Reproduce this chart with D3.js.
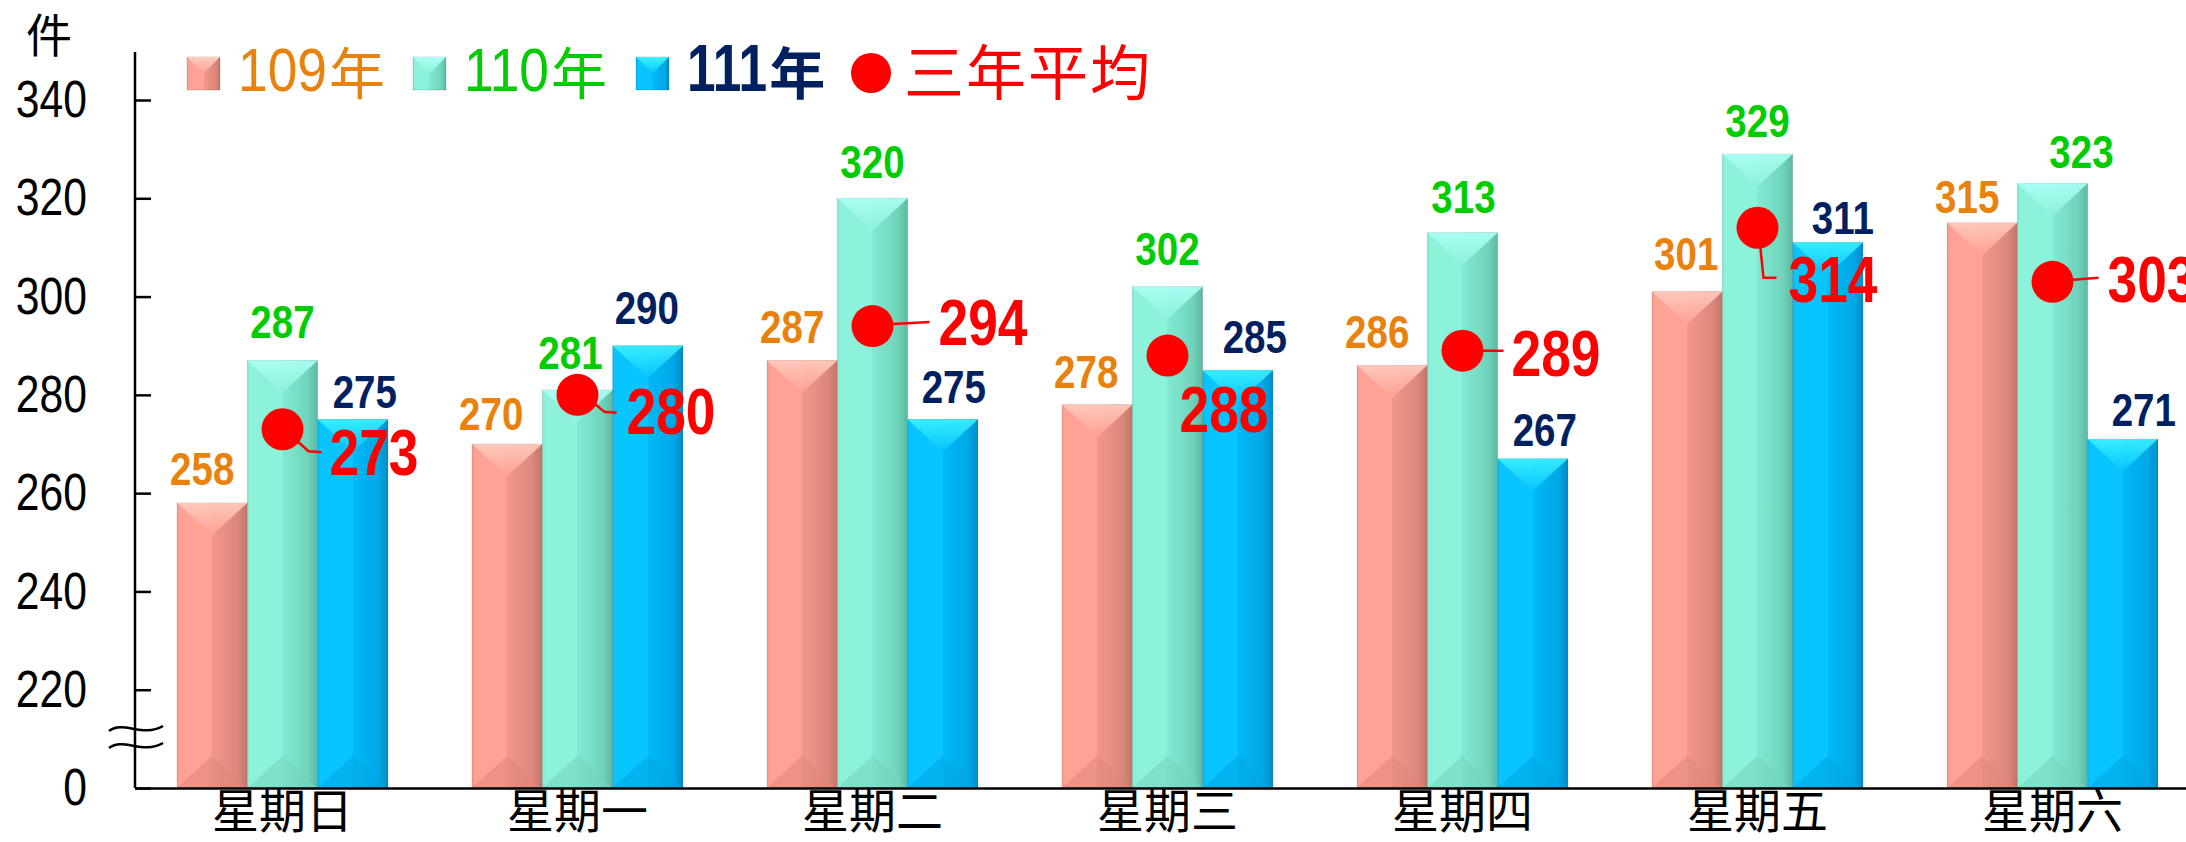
<!DOCTYPE html>
<html>
<head>
<meta charset="utf-8">
<script src="https://cdn.jsdelivr.net/npm/d3@7"></script>
<style>
  body { margin: 0; background: #fff; }
  svg { display: block; }
</style>
</head>
<body>
<div id="chart"></div>
<script>
// data
const days = ["星期日", "星期一", "星期二", "星期三", "星期四", "星期五", "星期六"];
const seriesNames = ["109年", "110年", "111年"];
const y109 = [258, 270, 287, 278, 286, 301, 315];
const y110 = [287, 281, 320, 302, 313, 329, 323];
const y111 = [275, 290, 275, 285, 267, 311, 271];
const avg3 = [273, 280, 294, 288, 289, 314, 303];
const avgName = "三年平均";
const unitLabel = "件";
const yTicks = [200, 220, 240, 260, 280, 300, 320, 340];
const yTickText = ["0", "220", "240", "260", "280", "300", "320", "340"];

// label placement in the original is done by hand: [dx from bar centre, gap above bar top]
const nudge109 = [[-10, 18], [-16, 14], [-10, 17], [-11, 17], [-15, 17], [-1, 22], [-15, 10]];
const nudge110 = [[0, 22], [-7, 21], [0, 20], [0, 22], [1, 20], [0, 17], [29, 16]];
const nudge111 = [[12, 11], [-1, 22], [11, 16], [17, 17], [12, 13], [15, 9], [21, 13]];
// average labels: text start / baseline relative to dot, and leader line points
const avgLabelPos = [[47, 46], [49, 39], [66, 19], [12, 76], [49, 25], [31, 74], [55, 20]];
const avgLeaders = [
  [[15, 12], [26, 22], [39, 23]],
  [[16, 8], [27, 17], [39, 18]],
  [[21, -2], [57, -4]],
  [],
  [[21, 0], [41, 0]],
  [[3, 21], [6, 50], [19, 50]],
  [[21, -2], [46, -4]]
];

const W = 2186, H = 842;
const NUM = '"Liberation Sans Narrow","Arial Narrow","Liberation Sans",Arial,sans-serif';
const CJK = '"Noto Sans CJK TC","Noto Sans CJK SC",sans-serif';
const SX = 0.82;   // the original uses a narrow face, squeeze the digits

const series = [
  {name: seriesNames[0], values: y109, nudge: nudge109, text: "#E8820C",
   light: "#FFA194", mid: "#F3978A", dark: "#DC887C", edge: "#C47468", top: "#FFCCC0", bot: "#E0867A"},
  {name: seriesNames[1], values: y110, nudge: nudge110, text: "#00CC00",
   light: "#8CF2DA", mid: "#82EAD2", dark: "#70D4BC", edge: "#5CB8A2", top: "#ADFFF6", bot: "#72D6BE"},
  {name: seriesNames[2], values: y111, nudge: nudge111, text: "#002060",
   light: "#08C4FF", mid: "#00B9F6", dark: "#00A8E6", edge: "#008CC6", top: "#3CF2FF", bot: "#00A6E2"}
];

// move x/y into a transform so the glyphs can be squeezed horizontally
function squeeze(sel, sx) {
    sel.each(function () {
        let t = d3.select(this);
        let tx = +t.attr("x") || 0, ty = +t.attr("y") || 0;
        t.attr("x", 0).attr("y", 0)
            .attr("transform", `translate(${tx},${ty}) scale(${sx},1)`);
    });
}

const svg = d3.select("#chart").append("svg")
    .attr("width", W)
    .attr("height", H);

const x = d3.scaleBand()
    .domain(days)
    .range([135, 2200])
    .paddingInner(0.285)
    .paddingOuter(0.1425);

const xs = d3.scaleBand()
    .domain(seriesNames)
    .range([0, x.bandwidth()]);

const y = d3.scaleLinear()
    .domain([200, 340])
    .range([788, 100]);

// gradients for the bevelled bars
const defs = svg.append("defs");
series.forEach(function (s, i) {
    let g = defs.append("linearGradient").attr("id", "body" + i)
        .attr("x1", 0).attr("x2", 1).attr("y1", 0).attr("y2", 0);
    g.append("stop").attr("offset", 0).attr("stop-color", s.mid);
    g.append("stop").attr("offset", 0.04).attr("stop-color", s.light);
    g.append("stop").attr("offset", 0.5).attr("stop-color", s.light);
    g.append("stop").attr("offset", 0.5).attr("stop-color", s.mid);
    g.append("stop").attr("offset", 0.86).attr("stop-color", s.dark);
    g.append("stop").attr("offset", 1).attr("stop-color", s.edge);

    let t = defs.append("linearGradient").attr("id", "top" + i)
        .attr("x1", 0).attr("x2", 0).attr("y1", 0).attr("y2", 1);
    t.append("stop").attr("offset", 0).attr("stop-color", s.top);
    t.append("stop").attr("offset", 1).attr("stop-color", s.light);
});

// bars
const baseY = y(200);
series.forEach(function (s, i) {
    let bw = xs.bandwidth();
    let rows = s.values.map(function (v, j) {
        return {v: v, j: j, x0: x(days[j]) + xs(s.name)};
    });
    let g = svg.append("g");

    g.selectAll("rect").data(rows).enter()
        .append("rect")
        .attr("x", d => d.x0)
        .attr("y", d => y(d.v))
        .attr("width", bw)
        .attr("height", d => baseY - y(d.v))
        .attr("fill", "url(#body" + i + ")")
        .attr("stroke", "rgba(0,0,0,0.12)")
        .attr("stroke-width", 1);

    // top bevel (V shape)
    g.selectAll("path.top").data(rows).enter()
        .append("path")
        .attr("class", "top")
        .attr("d", function (d) {
            let t = y(d.v);
            return `M${d.x0},${t}L${d.x0 + bw},${t}L${d.x0 + bw / 2},${t + bw * 0.46}Z`;
        })
        .attr("fill", "url(#top" + i + ")")
        .attr("opacity", 0.9);

    // bottom bevel
    g.selectAll("path.bot").data(rows).enter()
        .append("path")
        .attr("class", "bot")
        .attr("d", function (d) {
            return `M${d.x0},${baseY}L${d.x0 + bw},${baseY}L${d.x0 + bw / 2},${baseY - bw * 0.46}Z`;
        })
        .attr("fill", s.bot)
        .attr("opacity", 0.55);

    // value labels
    g.selectAll("text").data(rows).enter()
        .append("text")
        .attr("x", d => d.x0 + bw / 2 + s.nudge[d.j][0])
        .attr("y", d => y(d.v) - s.nudge[d.j][1])
        .attr("text-anchor", "middle")
        .attr("font-family", NUM)
        .attr("font-weight", "bold")
        .attr("font-size", 47)
        .attr("fill", s.text)
        .text(d => d.v)
        .call(squeeze, SX);
});

// axes
const yAxis = svg.append("g")
    .attr("transform", "translate(135,0)")
    .call(d3.axisLeft(y).tickValues(yTicks)
        .tickFormat((d, i) => yTickText[i])
        .tickSize(-16).tickPadding(48));
yAxis.select(".domain").remove();
yAxis.selectAll(".tick line").attr("stroke", "#000").attr("stroke-width", 2.5);
yAxis.selectAll(".tick text")
    .attr("font-family", NUM)
    .attr("font-size", 52)
    .attr("fill", "#000")
    .call(squeeze, SX);

svg.append("line")
    .attr("x1", 135).attr("x2", 135)
    .attr("y1", 52).attr("y2", baseY)
    .attr("stroke", "#000").attr("stroke-width", 2.5);

const xAxis = svg.append("g")
    .attr("transform", `translate(0,${baseY})`)
    .call(d3.axisBottom(x).tickSize(0).tickSizeOuter(0));
xAxis.select(".domain").attr("stroke", "#000").attr("stroke-width", 2.5);
xAxis.selectAll(".tick text")
    .attr("y", 40)
    .attr("dy", null)
    .attr("font-family", CJK)
    .attr("font-size", 47)
    .attr("fill", "#000");

// axis break mark
[729, 746].forEach(function (by) {
    svg.append("path")
        .attr("d", `M109,${by + 2}C124,${by - 9} 142,${by + 9} 163,${by - 3}`)
        .attr("fill", "none")
        .attr("stroke", "#000")
        .attr("stroke-width", 2.5);
});

svg.append("text")
    .attr("x", 49).attr("y", 52)
    .attr("text-anchor", "middle")
    .attr("font-family", CJK)
    .attr("font-size", 46)
    .attr("fill", "#000")
    .text(unitLabel);

// three year average dots
const avgG = svg.append("g");
const avgRows = avg3.map((v, j) => ({v: v, j: j, cx: x(days[j]) + x.bandwidth() / 2, cy: y(v)}));

avgG.selectAll("polyline").data(avgRows.filter(d => avgLeaders[d.j].length)).enter()
    .append("polyline")
    .attr("points", d => [[0, 0]].concat(avgLeaders[d.j]).map(p => [d.cx + p[0], d.cy + p[1]].join(",")).join(" "))
    .attr("fill", "none")
    .attr("stroke", "#FF0000")
    .attr("stroke-width", 2.5);

avgG.selectAll("circle").data(avgRows).enter()
    .append("circle")
    .attr("cx", d => d.cx)
    .attr("cy", d => d.cy)
    .attr("r", 21)
    .attr("fill", "#FF0000");

avgG.selectAll("text").data(avgRows).enter()
    .append("text")
    .attr("x", d => d.cx + avgLabelPos[d.j][0])
    .attr("y", d => d.cy + avgLabelPos[d.j][1])
    .attr("font-family", NUM)
    .attr("font-weight", "bold")
    .attr("font-size", 65)
    .attr("fill", "#FF0000")
    .text(d => d.v)
    .call(squeeze, SX);

// legend
const legendX = [187, 413, 636];
const legendSX = [0.86, 0.86, 0.78];
const legend = svg.append("g");
series.forEach(function (s, i) {
    let lx = legendX[i];
    legend.append("rect")
        .attr("x", lx).attr("y", 57)
        .attr("width", 33).attr("height", 33)
        .attr("fill", "url(#body" + i + ")")
        .attr("stroke", "rgba(0,0,0,0.15)");
    legend.append("path")
        .attr("d", `M${lx},57L${lx + 33},57L${lx + 16.5},${57 + 16.5}Z`)
        .attr("fill", "url(#top" + i + ")");
    let bold = i === 2;
    let num = legend.append("text")
        .attr("x", lx + 51).attr("y", 91)
        .attr("font-family", NUM)
        .attr("font-weight", bold ? "bold" : "normal")
        .attr("font-size", bold ? 66 : 62)
        .attr("fill", s.text)
        .text(s.name.slice(0, -1));
    let numW = num.node().getComputedTextLength() * legendSX[i];
    num.call(squeeze, legendSX[i]);
    legend.append("text")
        .attr("x", lx + 51 + numW + 2).attr("y", 94)
        .attr("font-family", CJK)
        .attr("font-weight", bold ? "bold" : "normal")
        .attr("font-size", 56)
        .attr("fill", s.text)
        .text(s.name.slice(-1));
});
legend.append("circle")
    .attr("cx", 871).attr("cy", 73).attr("r", 20)
    .attr("fill", "#FF0000");
legend.append("text")
    .attr("x", 904).attr("y", 95)
    .attr("font-family", CJK)
    .attr("font-size", 60)
    .attr("letter-spacing", 2)
    .attr("fill", "#FF0000")
    .text(avgName);
</script>
</body>
</html>
